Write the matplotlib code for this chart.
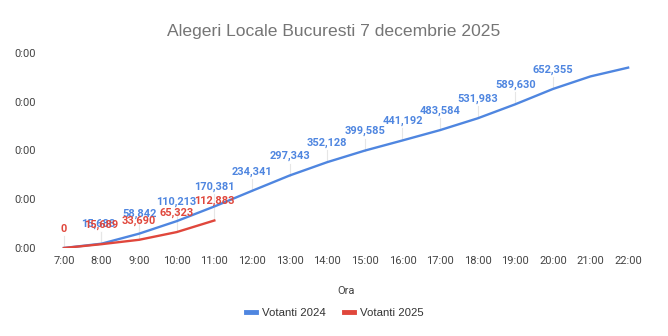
import matplotlib
matplotlib.use("Agg")
import matplotlib.pyplot as plt

# ore si numar de votanti
ore = ["7:00", "8:00", "9:00", "10:00", "11:00", "12:00", "13:00", "14:00",
       "15:00", "16:00", "17:00", "18:00", "19:00", "20:00", "21:00", "22:00"]
votanti_2024 = [0, 17688, 58842, 110213, 170381, 234341, 297343, 352128,
                399585, 441192, 483584, 531983, 589630, 652355, 704000, 740000]
etichete_2024 = [None, "15,688", "58,842", "110,213", "170,381", "234,341", "297,343",
                 "352,128", "399,585", "441,192", "483,584", "531,983", "589,630",
                 "652,355", None, None]
votanti_2025 = [0, 15689, 33690, 65323, 112883]
etichete_2025 = ["0", "15,689", "33,690", "65,323", "112,883"]

blue = "#4f86e0"
red = "#e0473c"

fig = plt.figure(figsize=(6.68, 3.36), dpi=100)
ax = fig.add_axes([62 / 668, 88 / 336, 568 / 668, 195 / 336])

x24 = list(range(len(ore)))
x25 = list(range(len(votanti_2025)))

ax.plot(x24, votanti_2024, color=blue, lw=1.7, label="Votanti 2024", zorder=3)
ax.plot(x25, votanti_2025, color=red, lw=1.7, label="Votanti 2025", zorder=3)

# etichete de date, cu liniuta subtire spre punct
for xs, ys, labels, col, dx in [(x24, votanti_2024, etichete_2024, blue, -2),
                                (x25, votanti_2025, etichete_2025, red, 0)]:
    for xi, yi, lab in zip(xs, ys, labels):
        if lab is None:
            continue
        ax.plot([xi, xi], [yi, yi + 12 * 4100], color="#e6e6e6", lw=0.8, zorder=1)
        ax.annotate(lab, (xi, yi), xytext=(dx if xi == 1 else 0, 14),
                    textcoords="offset points", ha="center", va="center",
                    color=col, fontsize=7.9, fontweight="bold", family="Roboto",
                    zorder=4)

ax.set_xlim(-0.05, len(ore) - 1 + 0.05)
ax.set_ylim(0, 800000)
ax.set_xticks(x24)
ax.set_xticklabels(ore)
ax.set_yticks([0, 200000, 400000, 600000, 800000])
ax.set_yticklabels(["0:00"] * 5)
ax.tick_params(length=0, labelsize=8, colors="#444444")
ax.xaxis.set_tick_params(pad=6)
ax.yaxis.set_tick_params(pad=34)
for lab in ax.get_xticklabels() + ax.get_yticklabels():
    lab.set_family("Roboto")
for lab in ax.get_yticklabels():
    lab.set_horizontalalignment("left")
for s in ax.spines.values():
    s.set_visible(False)

ax.set_xlabel("Ora", fontsize=8, color="#444444", family="Roboto", labelpad=14)
fig.suptitle("Alegeri Locale Bucuresti 7 decembrie 2025", y=0.93, fontsize=12.6,
             color="#757575", family="Liberation Sans")

leg = ax.legend(loc="upper center", bbox_to_anchor=(0.48, -0.255), ncol=2, frameon=False,
                handlelength=0.9, columnspacing=1.6, handletextpad=0.5,
                prop={"family": "Liberation Sans", "size": 8.2})
for h in leg.get_lines():
    h.set_linewidth(3.5)
for t in leg.get_texts():
    t.set_color("#333333")

fig.savefig("out.png", dpi=100, facecolor="white")
